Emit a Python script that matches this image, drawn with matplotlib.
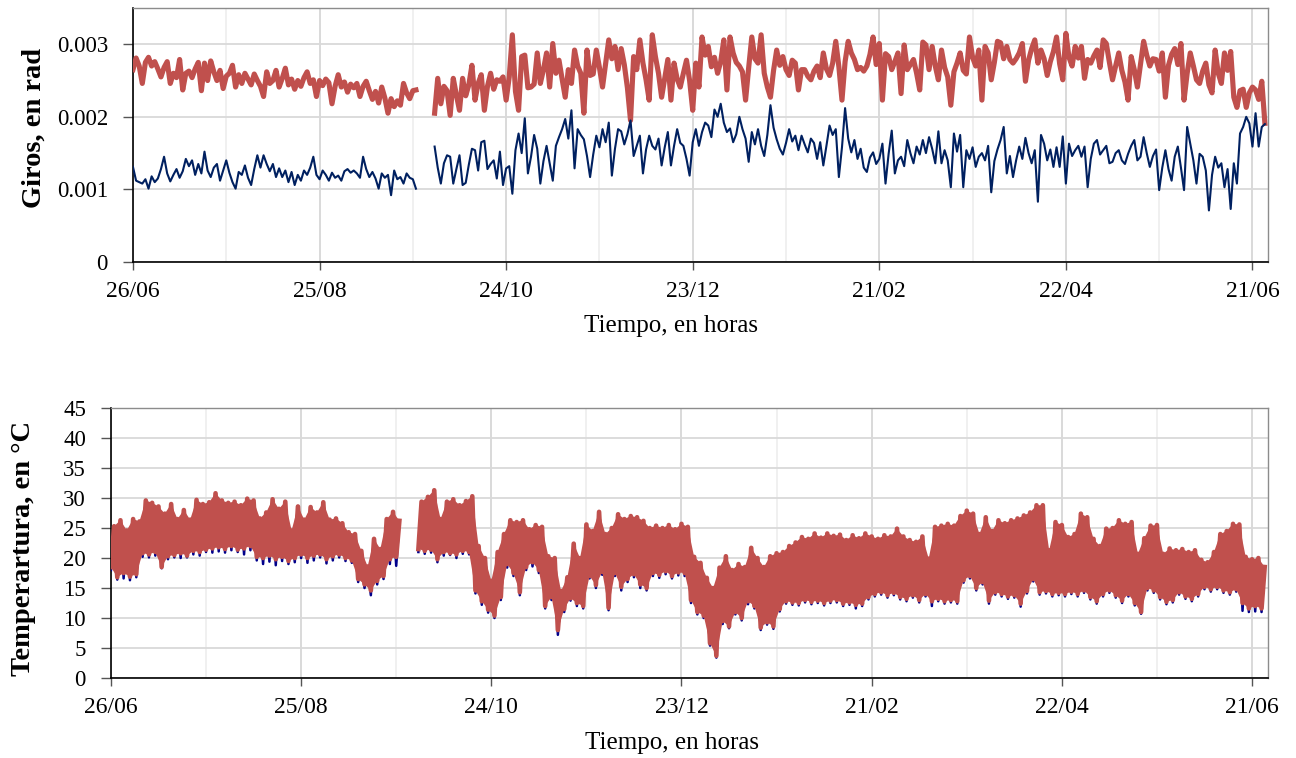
import numpy as np
import matplotlib
matplotlib.use('Agg')
import matplotlib.pyplot as plt

# Tick labels on the time axis, one every 60 days starting 26/06
date_labels = ['26/06', '25/08', '24/10', '23/12', '21/02', '22/04', '21/06']

# Daily rotations in units of 1e-4 rad.
# Stretch A starts on day 0, stretch B on day 97 (sensor offline in between).
ROT_START_A = 0
ROT_START_B = 97

rot_red_a = [
    26.5, 28.1, 27.0, 24.6, 27.5, 28.2, 27.0, 27.6, 26.6, 25.5,
    26.8, 27.6, 24.6, 26.0, 25.4, 27.9, 23.7, 26.0, 26.3, 25.4,
    26.6, 27.5, 23.6, 27.4, 25.0, 27.7, 26.2, 25.0, 26.4, 23.9,
    25.6, 26.0, 27.1, 24.1, 25.8, 24.6, 26.0, 25.2, 24.4, 25.9,
    25.0, 24.2, 22.8, 26.2, 24.6, 25.0, 26.4, 24.1, 25.3, 26.7,
    24.4, 25.2, 23.8, 25.0, 24.2, 25.4, 26.2, 24.6, 25.1, 22.8,
    25.0, 24.3, 25.2, 24.7, 21.8, 24.2, 25.8, 24.1, 24.8, 23.4,
    24.5, 24.0, 24.6, 22.8, 24.2, 24.9, 23.6, 22.4, 23.5, 21.9,
    24.1, 22.6, 20.5, 22.5, 21.4, 22.2, 21.6, 24.6, 23.3, 22.5,
    23.6, 23.7,
]
rot_red_b = [
    20.5, 25.3, 21.8, 24.2, 23.6, 20.2, 25.3, 23.0, 20.9, 25.3,
    22.9, 24.4, 27.1, 22.3, 24.6, 25.8, 20.9, 24.2, 26.0, 23.8,
    25.1, 24.9, 25.5, 22.3, 25.5, 31.3, 23.5, 20.9, 28.3, 28.5,
    24.0, 24.1, 24.5, 28.8, 24.6, 26.5, 28.8, 24.1, 30.1, 26.0,
    27.8, 25.2, 22.7, 26.5, 24.6, 29.2, 27.0, 26.0, 20.5, 29.2,
    25.7, 25.9, 29.2, 26.8, 24.1, 27.4, 30.6, 28.0, 29.7, 26.5,
    29.4, 27.2, 24.0, 19.5, 28.3, 26.5, 30.6, 27.4, 25.1, 22.3,
    31.3, 28.3, 26.0, 22.7, 25.3, 27.9, 22.3, 27.4, 25.2, 24.1,
    26.0, 27.8, 25.0, 20.9, 27.4, 24.1, 31.0, 28.5, 29.7, 26.9,
    28.2, 26.0, 27.6, 30.6, 23.7, 31.0, 28.8, 27.5, 27.0, 26.2,
    22.3, 26.8, 31.0, 28.0, 27.4, 31.3, 26.0, 24.1, 22.7, 26.4,
    29.2, 27.1, 28.3, 26.5, 25.7, 27.8, 27.4, 23.7, 26.5, 26.5,
    25.6, 25.1, 26.3, 27.0, 25.4, 28.8, 26.6, 25.7, 27.4, 30.4,
    26.9, 22.3, 27.6, 30.4, 28.8, 27.9, 26.5, 26.8, 26.3, 27.0,
    28.6, 31.0, 27.2, 30.1, 22.3, 28.7, 28.3, 26.5, 27.6, 28.8,
    23.2, 29.9, 26.5, 27.2, 27.9, 26.0, 23.7, 30.3, 29.9, 26.5,
    29.7, 27.0, 25.1, 29.2, 26.8, 25.5, 21.6, 26.2, 27.4, 28.8,
    26.4, 25.9, 31.0, 28.2, 27.0, 29.2, 22.3, 29.7, 28.8, 25.1,
    27.5, 30.4, 30.2, 28.0, 29.7, 27.9, 27.4, 28.0, 28.8, 30.1,
    24.9, 27.8, 29.4, 30.6, 27.4, 29.2, 28.0, 25.7, 27.6, 29.0,
    31.0, 27.3, 25.1, 31.5, 28.2, 27.0, 29.7, 28.1, 29.7, 25.3,
    27.9, 27.4, 28.4, 29.2, 26.8, 30.6, 30.1, 27.5, 25.1, 27.0,
    28.8, 26.4, 24.8, 22.3, 28.3, 26.5, 24.1, 27.2, 30.4, 28.5,
    27.0, 28.0, 27.9, 26.3, 28.8, 22.7, 27.1, 28.6, 29.4, 27.2,
    30.1, 22.3, 26.0, 28.8, 27.0, 25.1, 24.6, 26.3, 27.4, 24.4,
    23.3, 29.2, 26.0, 24.6, 28.8, 26.4, 29.0, 22.7, 21.3, 23.6,
    23.8, 21.3, 23.3, 24.1, 23.7, 22.4, 24.9, 19.1,
]
rot_blue_a = [
    13.1, 11.2, 11.0, 10.8, 11.4, 10.1, 11.8, 11.0, 11.5, 12.8,
    14.5, 12.2, 11.1, 12.0, 12.8, 11.6, 12.5, 14.2, 13.2, 14.0,
    12.0, 13.5, 12.2, 15.2, 12.6, 11.7, 13.0, 13.5, 11.2, 12.6,
    14.0, 12.3, 11.0, 10.1, 12.4, 12.0, 13.3, 11.6, 10.6, 12.8,
    14.7, 13.0, 14.7, 13.5, 12.5, 13.5, 11.7, 12.9, 11.7, 12.6,
    11.0, 12.4, 10.6, 12.0, 11.2, 12.6, 12.0, 13.0, 14.5, 12.0,
    11.4, 12.6, 12.0, 11.2, 12.3, 11.6, 11.9, 11.2, 12.5, 12.8,
    12.3, 12.6, 12.2, 11.6, 14.5, 12.8, 11.7, 12.4, 11.5, 10.1,
    12.2, 11.6, 12.0, 9.2, 12.6, 11.4, 11.7, 10.8, 12.2, 11.6,
    11.4, 10.1,
]
rot_blue_b = [
    15.9, 13.0, 10.8, 13.6, 14.7, 14.5, 10.8, 12.8, 14.7, 10.6,
    10.9, 13.4, 15.6, 15.4, 12.6, 16.5, 16.7, 12.8, 13.5, 14.0,
    11.5, 15.2, 10.6, 12.9, 13.2, 9.4, 15.4, 17.7, 15.0, 19.8,
    12.2, 14.5, 17.5, 15.6, 10.8, 13.9, 16.0, 13.6, 11.2, 16.0,
    17.2, 18.3, 19.7, 17.0, 20.9, 12.9, 18.3, 17.5, 16.9, 14.6,
    11.7, 14.8, 17.4, 15.8, 18.3, 16.5, 19.2, 11.9, 15.6, 18.3,
    18.0, 16.2, 17.6, 19.5, 14.6, 16.0, 17.4, 12.2, 15.5, 17.4,
    16.0, 15.5, 17.0, 13.3, 15.8, 17.9, 13.3, 16.0, 18.3, 16.4,
    16.0, 14.2, 11.9, 16.5, 18.3, 16.0, 17.9, 19.2, 18.8, 17.2,
    21.0, 20.0, 21.8, 19.2, 17.9, 18.4, 16.5, 17.6, 20.0, 18.3,
    17.0, 13.8, 17.9, 16.2, 18.3, 16.0, 14.6, 17.5, 21.6, 18.5,
    16.9, 15.6, 14.8, 16.4, 18.3, 16.6, 17.4, 15.4, 17.4, 16.2,
    15.1, 17.0, 16.4, 14.2, 16.5, 13.3, 16.0, 18.8, 17.5, 18.3,
    11.7, 15.8, 21.2, 17.0, 15.1, 16.8, 14.2, 15.6, 13.0, 12.4,
    14.4, 15.1, 13.5, 14.2, 16.3, 10.8, 14.9, 18.1, 12.2, 14.0,
    14.5, 13.2, 16.8, 15.0, 13.6, 15.9, 14.8, 16.8, 15.0, 17.2,
    15.6, 13.6, 18.0, 13.6, 15.4, 14.0, 10.3, 17.7, 15.2, 17.5,
    10.3, 15.4, 14.2, 15.8, 13.1, 14.5, 15.0, 14.0, 16.0, 9.6,
    13.9, 15.5, 16.8, 18.6, 12.2, 14.6, 11.7, 14.0, 15.9, 14.2,
    17.1, 15.0, 13.6, 15.4, 8.3, 17.5, 16.3, 14.0, 15.5, 13.1,
    15.8, 13.1, 17.3, 10.8, 16.3, 14.6, 15.4, 16.0, 14.5, 15.9,
    10.3, 14.2, 16.3, 16.8, 14.8, 15.4, 16.0, 13.6, 13.8, 15.0,
    15.4, 14.0, 13.5, 14.9, 16.0, 16.8, 14.0, 14.5, 17.2, 15.0,
    13.1, 14.6, 15.5, 9.9, 13.0, 15.4, 12.8, 11.2, 14.5, 15.9,
    13.0, 9.9, 18.6, 16.3, 14.0, 10.8, 14.9, 14.5, 12.6, 7.1,
    12.0, 14.5, 13.0, 13.6, 10.3, 12.8, 7.3, 13.6, 10.8, 17.7,
    18.6, 20.0, 19.1, 15.9, 20.5, 15.9, 18.6, 19.0,
]

# Temperatures in degC: daily low on one day, daily high on the next.
# Stretch A starts on day 0, stretch B on day 97.
TEMP_START_A = 0
TEMP_START_B = 97

temp_low_a = [
    18.5, 16.8, 17.5, 16.9, 17.3, 20.8, 20.6, 21.0, 18.5, 20.3,
    20.5, 20.8, 20.4, 21.2, 21.0, 21.4, 21.6, 21.8, 21.5, 22.0,
    21.4, 21.6, 22.0, 20.2, 20.0, 20.4, 19.8, 20.2, 19.5, 20.0,
    20.6, 20.0, 20.4, 20.6, 19.8, 20.3, 20.6, 20.0, 19.6, 16.5,
    15.6, 14.6, 16.2, 17.0, 19.8, 20.2,
]
temp_high_a = [
    25.3, 26.3, 24.6, 26.5, 26.1, 29.6, 29.2, 28.6, 27.4, 29.0,
    26.5, 28.0, 26.4, 29.7, 29.0, 29.3, 30.8, 29.6, 29.2, 29.4,
    28.8, 29.9, 29.6, 26.6, 27.6, 29.8, 28.2, 29.4, 24.6, 28.6,
    26.4, 28.5, 27.6, 29.3, 26.4, 26.6, 25.8, 24.3, 24.0, 21.2,
    18.6, 23.2, 21.5, 26.5, 27.7, 26.2,
]
temp_low_blue_a = [
    18.0, 16.4, 16.6, 16.3, 16.8, 20.2, 20.1, 20.4, 18.3, 19.8,
    20.1, 20.0, 20.1, 20.6, 20.4, 21.0, 20.9, 21.1, 20.9, 21.3,
    21.0, 20.6, 21.3, 19.6, 19.0, 19.4, 18.8, 19.5, 19.0, 19.3,
    20.0, 19.2, 19.6, 20.1, 19.1, 19.6, 20.1, 19.5, 19.2, 16.0,
    15.0, 13.8, 15.6, 16.5, 19.0, 18.7,
]
temp_low_b = [
    21.5, 21.2, 21.4, 19.8, 21.0, 20.8, 20.6, 21.2, 21.0, 14.6,
    12.8, 11.4, 10.4, 13.5, 19.0, 17.5, 14.3, 18.5, 19.3, 18.0,
    12.0, 13.5, 8.0, 11.5, 13.3, 12.5, 12.0, 17.0, 15.5, 17.7,
    11.7, 17.5, 15.2, 16.5, 17.3, 15.6, 15.0, 17.5, 17.2, 17.8,
    17.0, 17.6, 17.5, 13.0, 11.0, 10.4, 5.8, 3.7, 9.5, 8.6,
    11.0, 10.0, 12.8, 12.0, 8.4, 9.3, 8.6, 11.5, 12.8, 12.6,
    12.5, 13.0, 12.7, 12.9, 12.5, 12.9, 13.0, 12.4, 12.6, 12.2,
    12.4, 13.5, 14.0, 14.3, 13.8, 14.2, 13.5, 13.2, 13.8, 13.0,
    14.0, 12.8, 13.2, 12.8, 13.0, 12.8, 16.3, 17.0, 15.0, 16.0,
    12.9, 14.3, 14.0, 13.6, 13.8, 12.4, 14.5, 16.5, 14.3, 14.5,
    14.0, 14.2, 14.0, 14.4, 14.0, 14.6, 13.5, 12.8, 14.0, 14.6,
    13.8, 12.9, 14.0, 12.5, 11.0, 15.0, 14.6, 13.5, 12.7, 13.0,
    14.3, 13.6, 13.2, 14.0, 15.2, 14.8, 15.2, 14.6, 14.3, 14.8,
    12.5, 11.6, 12.0, 11.6,
]
temp_high_b = [
    29.4, 30.2, 31.3, 26.5, 29.4, 29.8, 28.8, 29.5, 30.3, 22.0,
    20.0, 16.2, 21.0, 24.0, 26.3, 26.0, 26.3, 24.8, 25.5, 25.2,
    20.3, 20.0, 14.5, 16.8, 22.4, 20.0, 25.6, 24.5, 27.7, 24.0,
    25.0, 27.3, 26.5, 27.0, 26.8, 26.2, 25.0, 25.4, 25.0, 25.5,
    24.8, 25.7, 25.2, 20.2, 19.2, 16.7, 15.0, 18.4, 20.3, 18.0,
    19.0, 18.5, 21.7, 20.0, 18.5, 20.3, 20.8, 21.0, 22.0, 22.6,
    23.5, 23.2, 24.1, 23.4, 24.1, 23.7, 23.9, 23.0, 23.8, 23.3,
    24.1, 23.6, 23.2, 23.8, 23.6, 24.9, 23.6, 23.0, 22.7, 23.6,
    19.9, 25.2, 25.4, 25.7, 25.4, 27.0, 27.9, 27.4, 24.0, 26.8,
    24.5, 26.3, 25.8, 26.3, 26.6, 27.1, 27.6, 28.8, 28.8, 21.3,
    26.0, 25.5, 23.5, 24.0, 27.4, 26.8, 23.2, 22.0, 24.9, 25.0,
    26.3, 25.7, 26.0, 20.7, 23.3, 25.4, 25.5, 20.7, 21.6, 21.3,
    21.5, 21.0, 21.3, 19.7, 19.3, 21.0, 24.0, 24.5, 25.7, 25.6,
    20.2, 19.8, 20.0, 18.5,
]
temp_low_blue_b = [
    21.0, 20.7, 20.9, 19.3, 20.4, 20.5, 20.0, 20.7, 20.6, 14.1,
    12.2, 10.9, 10.0, 13.0, 18.4, 17.0, 13.8, 18.0, 18.6, 17.5,
    11.6, 13.0, 7.2, 11.0, 12.9, 12.0, 11.6, 16.6, 15.0, 17.2,
    11.3, 17.0, 14.6, 16.0, 16.8, 15.0, 14.6, 17.0, 16.7, 17.3,
    16.6, 17.1, 17.0, 12.5, 10.6, 10.0, 5.4, 3.4, 9.0, 8.3,
    10.6, 9.6, 12.3, 11.6, 8.0, 8.9, 8.2, 11.1, 12.4, 12.2,
    12.1, 12.6, 12.3, 12.5, 12.1, 12.5, 12.6, 12.0, 12.2, 11.6,
    12.0, 13.1, 13.6, 13.9, 13.4, 13.8, 13.1, 12.8, 13.4, 12.6,
    13.6, 12.0, 12.8, 12.4, 12.6, 12.4, 15.9, 16.6, 14.6, 15.6,
    12.4, 13.9, 13.6, 13.2, 13.4, 11.9, 14.1, 16.1, 13.9, 14.1,
    13.6, 13.8, 13.6, 14.0, 13.6, 14.2, 13.1, 12.4, 13.6, 14.2,
    13.4, 12.5, 13.6, 12.1, 10.7, 14.6, 14.2, 13.1, 12.3, 12.6,
    13.9, 13.2, 12.8, 13.6, 14.8, 14.4, 14.8, 14.2, 13.9, 14.4,
    11.2, 11.0, 11.1, 11.0,
]

RED = '#C0504D'
NAVY_TOP = '#002060'
NAVY_BOTTOM = '#00008B'
FONT = 'Liberation Serif'


def rot_series(start, values):
    """Days and radians for one stretch of rotation readings"""
    days = start + np.arange(len(values))
    return days, np.array(values) * 1e-4


def temp_series(start, lows, highs):
    """Alternate daily lows and highs into one trace"""
    n = len(lows)
    days = start + np.arange(2 * n)
    temps = np.empty(2 * n)
    temps[0::2] = lows
    temps[1::2] = highs
    return days, temps


def temp_band(start, lows, highs):
    """Outline between the daily highs and lows, for filling the band"""
    low_days = start + 2 * np.arange(len(lows))
    high_days = low_days + 1
    xs = np.concatenate([high_days, low_days[::-1]])
    ys = np.concatenate([highs, lows[::-1]])
    return xs, ys


def style_axes(ax, yticks, ylabels):
    """Grid, spines and ticks shared by both panels"""
    ax.set_xlim(0, 365)
    ax.set_xticks(np.arange(len(date_labels)) * 60)
    ax.set_xticklabels(date_labels, fontfamily=FONT, fontsize=17)
    ax.set_xticks(np.arange(30, 365, 60), minor=True)
    ax.set_yticks(yticks)
    ax.set_yticklabels(ylabels, fontfamily=FONT, fontsize=16.5)
    ax.tick_params(axis='x', which='major', direction='out', length=6, width=1,
                   color='#555555', pad=8)
    ax.tick_params(axis='x', which='minor', length=0)
    ax.tick_params(axis='y', direction='out', length=7, width=1,
                   color='#555555', pad=11)
    ax.grid(axis='y', color='#d9d9d9', lw=1.3, zorder=0)
    ax.grid(axis='x', which='major', color='#d3d3d3', lw=1.2, zorder=0)
    ax.grid(axis='x', which='minor', color='#ededed', lw=1.2, zorder=0)
    ax.set_axisbelow(True)
    for side in ('top', 'right'):
        ax.spines[side].set_color('#8c8c8c')
        ax.spines[side].set_linewidth(1.0)
    for side in ('left', 'bottom'):
        ax.spines[side].set_color('black')
        ax.spines[side].set_linewidth(1.2)


def main():
    fig = plt.figure(figsize=(12.96, 7.58), dpi=100)

    # Rotations
    ax1 = fig.add_axes([0.1026, 0.6544, 0.8758, 0.3351])
    for start, blue, red in ((ROT_START_A, rot_blue_a, rot_red_a),
                             (ROT_START_B, rot_blue_b, rot_red_b)):
        d, v = rot_series(start, red)
        ax1.plot(d, v, color=RED, lw=3.7, zorder=3)
        d, v = rot_series(start, blue)
        ax1.plot(d, v, color=NAVY_TOP, lw=1.5, zorder=4)
    ax1.set_ylim(0, 0.0035)
    style_axes(ax1, [0, 0.001, 0.002, 0.003], ['0', '0.001', '0.002', '0.003'])
    ax1.set_ylabel('Giros, en rad', fontfamily=FONT, fontsize=20.5,
                   fontweight='bold', va='center')
    ax1.yaxis.set_label_coords(-0.087, 0.528)
    ax1.set_xlabel('Tiempo, en horas', fontfamily=FONT, fontsize=18)
    ax1.xaxis.set_label_coords(0.474, -0.21)

    # Temperatures
    ax2 = fig.add_axes([0.0856, 0.1055, 0.8927, 0.3562])
    for start, lows, highs, lows_blue in (
            (TEMP_START_A, temp_low_a, temp_high_a, temp_low_blue_a),
            (TEMP_START_B, temp_low_b, temp_high_b, temp_low_blue_b)):
        d, t = temp_series(start, lows_blue, highs)
        ax2.plot(d, t, color=NAVY_BOTTOM, lw=1.8, zorder=3)
        xs, ys = temp_band(start, lows, highs)
        ax2.fill(xs, ys, color=RED, lw=0, zorder=3.5)
        d, t = temp_series(start, lows, highs)
        ax2.plot(d, t, color=RED, lw=3.3, zorder=4)
    ax2.set_ylim(0, 45)
    yt = list(range(0, 46, 5))
    style_axes(ax2, yt, [str(v) for v in yt])
    ax2.set_ylabel('Temperartura, en °C', fontfamily=FONT, fontsize=20.5,
                   fontweight='bold', va='center')
    ax2.yaxis.set_label_coords(-0.0756, 0.481)
    ax2.set_xlabel('Tiempo, en horas', fontfamily=FONT, fontsize=18)
    ax2.xaxis.set_label_coords(0.485, -0.2)

    fig.savefig('out.png', dpi=100)


if __name__ == "__main__":
    main()
